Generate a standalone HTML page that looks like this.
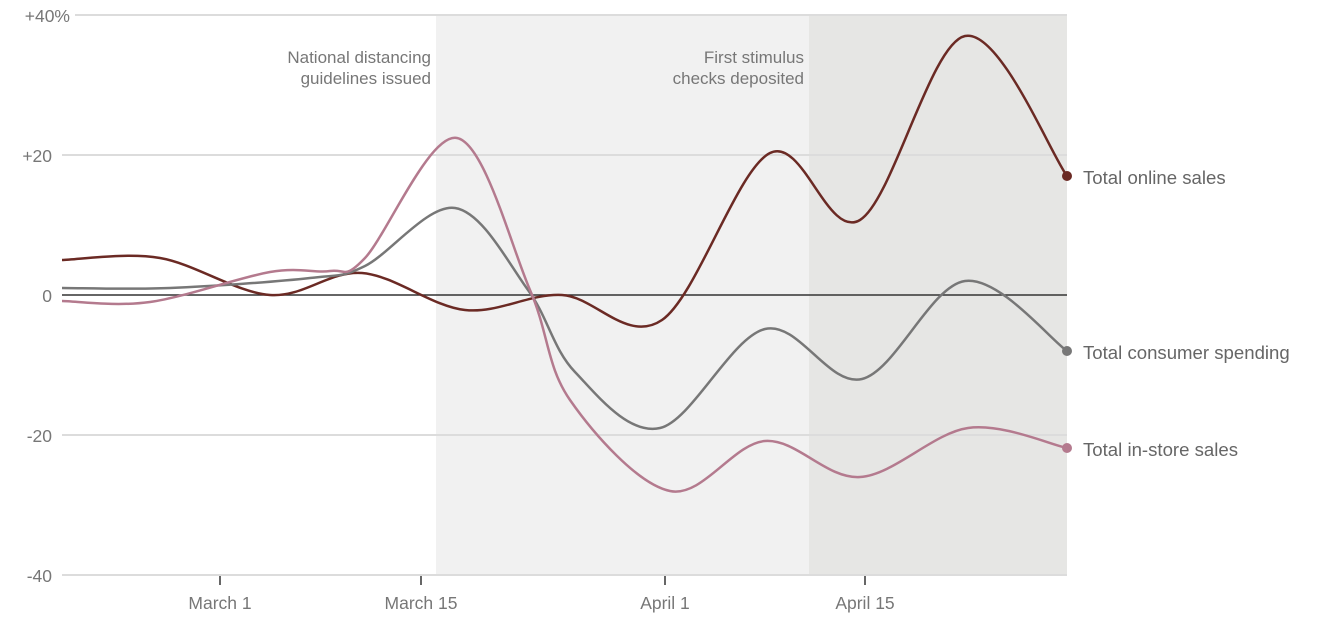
<!DOCTYPE html>
<html><head><meta charset="utf-8"><style>
body{margin:0;background:#fff;}
svg{display:block;font-family:"Liberation Sans",sans-serif;}
</style></head><body>
<svg id="s" width="1318" height="623" viewBox="0 0 1318 623">
<rect x="436" y="15" width="373" height="560" fill="#f1f1f1"/>
<rect x="809" y="15" width="258" height="560" fill="#e6e6e4"/>
<g stroke="#dcdcdc" stroke-width="2">
<line x1="75" y1="15" x2="1067" y2="15"/>
<line x1="62" y1="155" x2="1067" y2="155"/>
<line x1="62" y1="435" x2="1067" y2="435"/>
<line x1="62" y1="575" x2="1067" y2="575"/>
</g>
<line x1="62" y1="295" x2="1067" y2="295" stroke="#333" stroke-width="1.5"/>
<g fill="#777" font-size="17.5" text-anchor="end">
<text x="70" y="22">+40%</text>
<text x="52" y="162">+20</text>
<text x="52" y="302">0</text>
<text x="52" y="442">-20</text>
<text x="52" y="582">-40</text>
</g>
<g stroke="#333" stroke-width="1.5">
<line x1="220" y1="576" x2="220" y2="585"/>
<line x1="421" y1="576" x2="421" y2="585"/>
<line x1="665" y1="576" x2="665" y2="585"/>
<line x1="865" y1="576" x2="865" y2="585"/>
</g>
<g fill="#777" font-size="17.5" text-anchor="middle">
<text x="220" y="609">March 1</text>
<text x="421" y="609">March 15</text>
<text x="665" y="609">April 1</text>
<text x="865" y="609">April 15</text>
</g>
<g fill="#777" font-size="17" text-anchor="end">
<text x="431" y="63">National distancing</text>
<text x="431" y="84">guidelines issued</text>
<text x="804" y="63">First stimulus</text>
<text x="804" y="84">checks deposited</text>
</g>
<path id="p1" fill="none" stroke="#6b2a24" stroke-width="2.5"/>
<path id="p2" fill="none" stroke="#777" stroke-width="2.5"/>
<path id="p3" fill="none" stroke="#b47a8e" stroke-width="2.5"/>
<circle cx="1067" cy="176" r="5" fill="#6b2a24"/>
<circle cx="1067" cy="351" r="5" fill="#777"/>
<circle cx="1067" cy="448" r="5" fill="#b47a8e"/>
<g fill="#666" font-size="18.6">
<text x="1083" y="184">Total online sales</text>
<text x="1083" y="359">Total consumer spending</text>
<text x="1083" y="456">Total in-store sales</text>
</g>
</svg>
<script>
function cr(p){var d="M"+p[0][0]+","+p[0][1];for(var i=0;i<p.length-1;i++){var a=p[i-1]||p[i],b=p[i],c=p[i+1],e=p[i+2]||c;var t=6;d+=" C"+(b[0]+(c[0]-a[0])/t)+","+(b[1]+(c[1]-a[1])/t)+" "+(c[0]-(e[0]-b[0])/t)+","+(c[1]-(e[1]-b[1])/t)+" "+c[0]+","+c[1];}return d;}
document.getElementById("p1").setAttribute("d",cr([[62,260],[160,258],[270,295],[362,273],[465,310],[562,295],[662,320],[770,153],[860,220],[965,36],[1067,176]]));
document.getElementById("p2").setAttribute("d",cr([[62,288],[170,288],[310,278],[365,266],[455,208],[528,290],[575,372],[660,428],[765,329],[862,379],[965,281],[1067,351]]));
document.getElementById("p3").setAttribute("d",cr([[62,301],[150,302],[270,272],[330,271],[365,258],[457,138],[530,290],[570,400],[670,491],[765,441],[860,477],[968,428],[1067,448]]));
</script>
</body></html>
